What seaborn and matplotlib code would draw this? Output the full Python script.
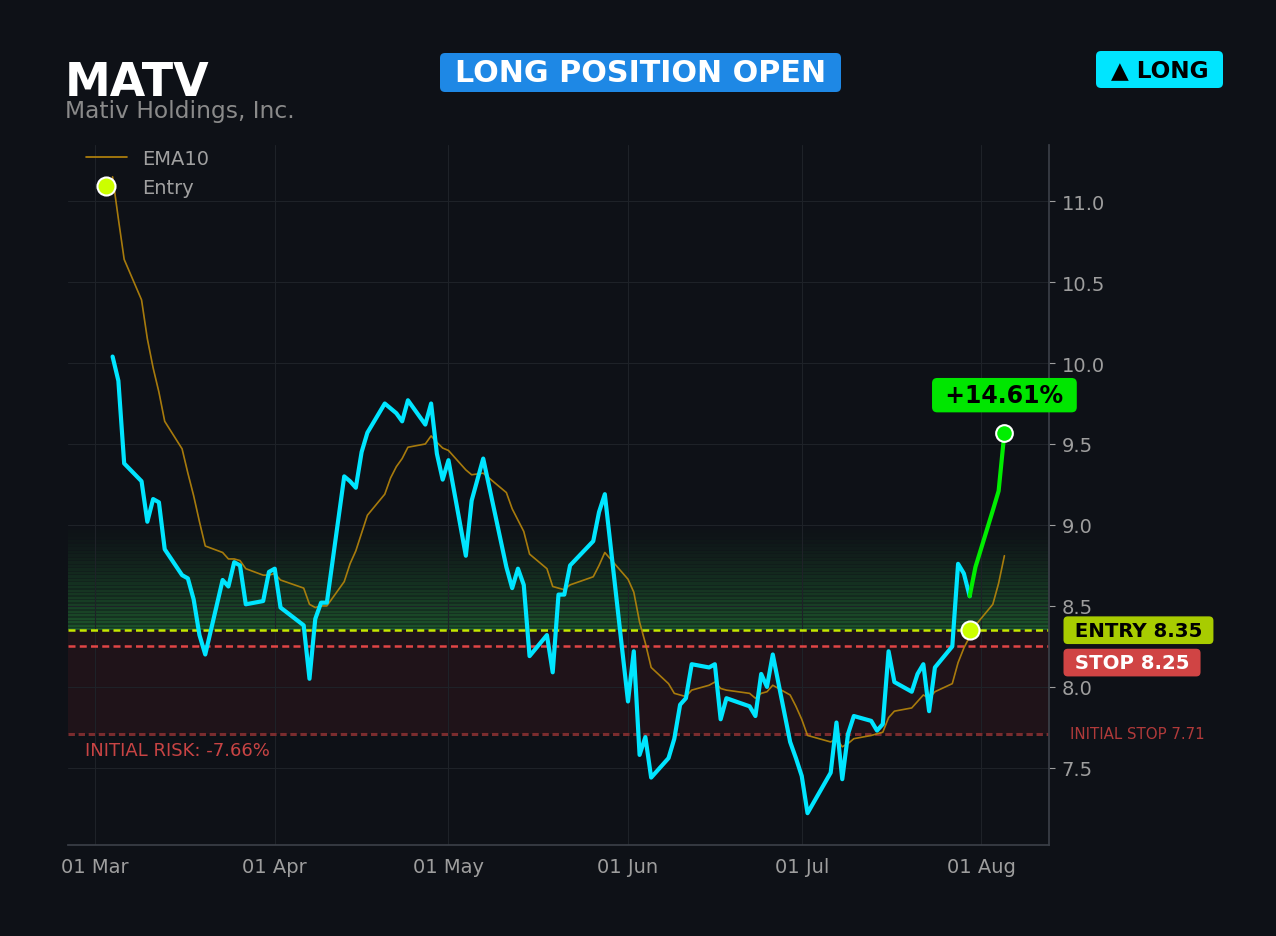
import matplotlib
matplotlib.use("Agg")
import matplotlib.pyplot as plt
import matplotlib.dates as mdates
from matplotlib.lines import Line2D
from matplotlib.patches import FancyBboxPatch
import pandas as pd
import seaborn as sns

ticker = "MATV"
company = "Mativ Holdings, Inc."

dates = [
    "2026-03-04", "2026-03-05", "2026-03-06", "2026-03-09", "2026-03-10", "2026-03-11", "2026-03-12",
    "2026-03-13", "2026-03-16", "2026-03-17", "2026-03-18", "2026-03-19", "2026-03-20", "2026-03-23",
    "2026-03-24", "2026-03-25", "2026-03-26", "2026-03-27", "2026-03-30", "2026-03-31",
    "2026-04-01", "2026-04-02", "2026-04-06", "2026-04-07", "2026-04-08", "2026-04-09", "2026-04-10",
    "2026-04-13", "2026-04-14", "2026-04-15", "2026-04-16", "2026-04-17", "2026-04-20", "2026-04-21",
    "2026-04-22", "2026-04-23", "2026-04-24", "2026-04-27", "2026-04-28", "2026-04-29", "2026-04-30",
    "2026-05-01", "2026-05-04", "2026-05-05", "2026-05-07", "2026-05-11", "2026-05-12", "2026-05-13",
    "2026-05-14", "2026-05-15", "2026-05-18", "2026-05-19", "2026-05-20", "2026-05-21", "2026-05-22",
    "2026-05-26", "2026-05-27", "2026-05-28",
    "2026-06-01", "2026-06-02", "2026-06-03", "2026-06-04", "2026-06-05", "2026-06-08", "2026-06-09",
    "2026-06-10", "2026-06-11", "2026-06-12", "2026-06-15", "2026-06-16", "2026-06-17", "2026-06-18",
    "2026-06-22", "2026-06-23", "2026-06-24", "2026-06-25", "2026-06-26", "2026-06-29", "2026-06-30",
    "2026-07-01", "2026-07-02", "2026-07-06", "2026-07-07", "2026-07-08", "2026-07-09", "2026-07-10",
    "2026-07-13", "2026-07-14", "2026-07-15", "2026-07-16", "2026-07-17", "2026-07-20", "2026-07-21",
    "2026-07-22", "2026-07-23", "2026-07-24", "2026-07-27", "2026-07-28", "2026-07-29", "2026-07-30",
    "2026-07-31", "2026-08-03", "2026-08-04", "2026-08-05",
]

close = [
    10.04, 9.89, 9.38, 9.27, 9.02, 9.16, 9.14, 8.85, 8.69, 8.67, 8.54, 8.32, 8.20, 8.66, 8.62, 8.77,
    8.75, 8.51, 8.53, 8.71,
    8.73, 8.49, 8.38, 8.05, 8.42, 8.52, 8.52, 9.30, 9.27, 9.23, 9.45, 9.57, 9.75, 9.72, 9.69, 9.64,
    9.77, 9.62, 9.75, 9.44, 9.28,
    9.40, 8.81, 9.15, 9.41, 8.74, 8.61, 8.73, 8.63, 8.19, 8.32, 8.09, 8.57, 8.57, 8.75, 8.90, 9.08, 9.19,
    7.91, 8.22, 7.58, 7.69, 7.44, 7.56, 7.68, 7.89, 7.93, 8.14, 8.12, 8.14, 7.80, 7.93, 7.88, 7.82,
    8.08, 8.00, 8.20, 7.66, 7.56,
    7.45, 7.22, 7.47, 7.78, 7.43, 7.71, 7.82, 7.79, 7.73, 7.77, 8.22, 8.03, 7.97, 8.08, 8.14, 7.85,
    8.12, 8.25, 8.76, 8.70, 8.56, 8.74,
    9.09, 9.21, 9.57,
]

ema10 = [
    11.15, 10.89, 10.64, 10.39, 10.15, 9.97, 9.82, 9.64, 9.47, 9.32, 9.18, 9.02, 8.87, 8.83, 8.79, 8.79,
    8.78, 8.73, 8.69, 8.69,
    8.70, 8.66, 8.61, 8.51, 8.49, 8.50, 8.50, 8.65, 8.76, 8.84, 8.95, 9.06, 9.19, 9.29, 9.36, 9.41,
    9.48, 9.50, 9.55, 9.51, 9.475,
    9.46, 9.34, 9.31, 9.32, 9.20, 9.10, 9.03, 8.96, 8.82, 8.73, 8.62, 8.61, 8.60, 8.63, 8.68, 8.75, 8.83,
    8.665, 8.585, 8.40, 8.27, 8.12, 8.02, 7.96, 7.95, 7.94, 7.98, 8.01, 8.03, 7.99, 7.98, 7.96, 7.93,
    7.96, 7.97, 8.01, 7.95, 7.88,
    7.80, 7.70, 7.66, 7.68, 7.63, 7.65, 7.68, 7.70, 7.71, 7.72, 7.81, 7.85, 7.87, 7.91, 7.95, 7.93,
    7.97, 8.02, 8.15, 8.24, 8.31, 8.38,
    8.51, 8.64, 8.81,
]

entry_date = "2026-07-30"
entry_price = 8.35
stop_price = 8.25
initial_stop = 7.71

BG = "#0e1117"
TXT = "#9e9e9e"
CYAN = "#00e5ff"
GREEN = "#00ee00"
EMA_C = "#b8860b"
ENTRY_C = "#ccff00"

df = pd.DataFrame({"date": pd.to_datetime(dates), "close": close, "ema10": ema10})
entry_ts = pd.Timestamp(entry_date)
before = df[df["date"] <= entry_ts]
after = df[df["date"] >= entry_ts]
last = df.iloc[-1]
gain = (last["close"] / entry_price - 1) * 100
risk = (initial_stop / entry_price - 1) * 100

sns.set_theme(style="dark", rc={
    "figure.facecolor": BG, "axes.facecolor": BG, "axes.edgecolor": "#3a3f47",
    "xtick.color": TXT, "ytick.color": TXT, "text.color": TXT,
})
plt.rcParams["font.family"] = ["DejaVu Sans"]

fig, ax = plt.subplots(figsize=(12.76, 9.37), dpi=100)
fig.subplots_adjust(left=68 / 1276, right=1049 / 1276, top=1 - 146 / 937, bottom=1 - 846 / 937)

# striped green glow above entry, fading out toward 9.0
n_bands = 30
band = (9.0 - entry_price) / n_bands
for i in range(n_bands):
    a = 0.34 * (1 - i / n_bands) ** 1.3
    y0 = entry_price + i * band
    ax.axhspan(y0, y0 + band * 0.6, color="#39d353", alpha=a, lw=0, zorder=0)
    ax.axhspan(y0 + band * 0.6, y0 + band, color="#39d353", alpha=a * 0.6, lw=0, zorder=0)
ax.axhspan(initial_stop, entry_price, color="#ff3b3b", alpha=0.07, lw=0, zorder=0)

ax.axhline(entry_price, color="#c6e600", lw=1.8, ls=(0, (2.8, 1.7)), zorder=2)
ax.axhline(stop_price, color="#e04545", lw=1.8, ls=(0, (2.8, 1.7)), zorder=2)
ax.axhline(initial_stop, color="#7a2c2e", lw=2.2, ls=(0, (2.1, 1.2)), zorder=2)

sns.lineplot(data=df, x="date", y="ema10", color=EMA_C, lw=1.2, alpha=0.9, ax=ax, zorder=3)
sns.lineplot(data=before, x="date", y="close", color=CYAN, lw=3, ax=ax, zorder=4)
sns.lineplot(data=after, x="date", y="close", color=GREEN, lw=3, ax=ax, zorder=4)

ax.plot(entry_ts, entry_price, "o", ms=13, mfc=ENTRY_C, mec="white", mew=1.5, zorder=6)
ax.plot(last["date"], last["close"], "o", ms=12, mfc=GREEN, mec="white", mew=1.5, zorder=6)

ax.annotate(f" {gain:+.2f}% ", xy=(last["date"], last["close"]), xytext=(0, 27),
            textcoords="offset points", ha="center", va="center", fontsize=17,
            fontweight="bold", color="black", zorder=7,
            bbox=dict(boxstyle="round,pad=0.22", fc="#00e600", ec="none"))

yax = ax.get_yaxis_transform()
ax.text(1.0192, entry_price, f" ENTRY {entry_price:.2f} ", transform=yax, ha="left", va="center",
        fontsize=14.2, fontweight="bold", color="black", clip_on=False,
        bbox=dict(boxstyle="round,pad=0.22", fc="#a8cc00", ec="none"))
ax.text(1.0192, 8.15, f" STOP {stop_price:.2f} ", transform=yax, ha="left", va="center",
        fontsize=14.2, fontweight="bold", color="white", clip_on=False,
        bbox=dict(boxstyle="round,pad=0.22", fc="#d04444", ec="none"))
ax.text(1.0214, initial_stop, f"INITIAL STOP {initial_stop:.2f}", transform=yax, ha="left",
        va="center", fontsize=10.8, color="#b03a3a", clip_on=False)
ax.text(0.017, 7.61, f"INITIAL RISK: {risk:.2f}%", transform=yax, ha="left", va="center",
        fontsize=13, color="#c84444")

handles = [Line2D([0], [0], color=EMA_C, lw=1.2),
           Line2D([0], [0], marker="o", ls="none", ms=13, mfc=ENTRY_C, mec="white", mew=1.5)]
ax.legend(handles, ["EMA10", "Entry"], loc="upper left", bbox_to_anchor=(14 / 981, 1.0),
          borderaxespad=0, borderpad=0.2, frameon=False, fontsize=14, labelcolor="#a0a0a0",
          handlelength=2.1, handletextpad=0.8)

ax.grid(True, color="#1e2228", lw=0.8)
ax.set_axisbelow(True)
ax.yaxis.tick_right()
ax.set_yticks([7.5, 8.0, 8.5, 9.0, 9.5, 10.0, 10.5, 11.0])
ax.xaxis.set_major_locator(mdates.MonthLocator())
ax.xaxis.set_major_formatter(mdates.DateFormatter("%d %b"))
ax.tick_params(axis="both", labelsize=14, colors=TXT, length=4, width=0.8, pad=5)
ax.set_xlabel("")
ax.set_ylabel("")
for side in ["top", "left"]:
    ax.spines[side].set_visible(False)
for side in ["right", "bottom"]:
    ax.spines[side].set_color("#3a3f47")

# header
fig.text(65 / 1276, 1 - 96 / 937, ticker, fontsize=33, fontweight="bold", color="white",
         ha="left", va="baseline")
fig.text(65 / 1276, 1 - 118 / 937, company, fontsize=16.8, color="#8a8a8a",
         ha="left", va="baseline")

inch = fig.dpi_scale_trans
fig.patches.append(FancyBboxPatch((4.40, 8.44), 4.01, 0.39, boxstyle="round,pad=0,rounding_size=0.05",
                                  fc="#1e88e5", ec="none", transform=inch, figure=fig))
fig.text(640.5 / 1276, 1 - 73.5 / 937, "LONG POSITION OPEN", fontsize=21.7, fontweight="bold",
         color="white", ha="center", va="center")
fig.patches.append(FancyBboxPatch((10.96, 8.48), 1.27, 0.37, boxstyle="round,pad=0,rounding_size=0.05",
                                  fc=CYAN, ec="none", transform=inch, figure=fig))
fig.text(1159.5 / 1276, 1 - 70.5 / 937, "▲ LONG", fontsize=16.7, fontweight="bold",
         color="black", ha="center", va="center")

fig.savefig("out.png", dpi=100, facecolor=BG)
plt.close(fig)
